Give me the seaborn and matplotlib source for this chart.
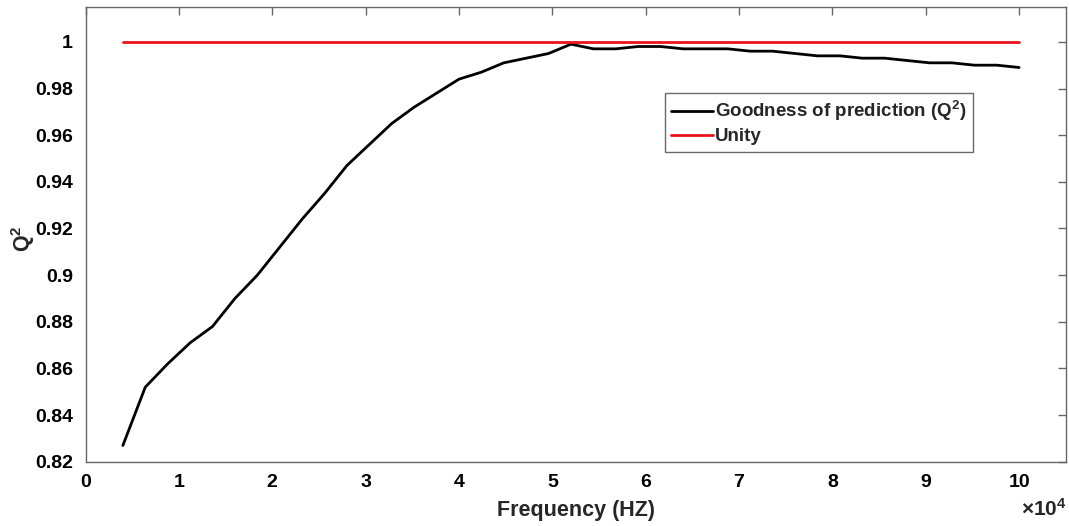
import pandas as pd
import matplotlib
matplotlib.use('Agg')
import matplotlib.pyplot as plt
import matplotlib.ticker as mticker
import seaborn as sns

# Frequencies (Hz) and goodness of prediction
freq = [4000, 6400, 8800, 11200, 13600, 16000, 18400, 20800, 23200, 25600,
        28000, 30400, 32800, 35200, 37600, 40000, 42400, 44800, 47200, 49600,
        52000, 54400, 56800, 59200, 61600, 64000, 66400, 68800, 71200, 73600,
        76000, 78400, 80800, 83200, 85600, 88000, 90400, 92800, 95200, 97600,
        100000]
q2 = [0.827, 0.852, 0.862, 0.871, 0.878, 0.890, 0.900, 0.912, 0.924, 0.935,
      0.947, 0.956, 0.965, 0.972, 0.978, 0.984, 0.987, 0.991, 0.993, 0.995,
      0.999, 0.997, 0.997, 0.998, 0.998, 0.997, 0.997, 0.997, 0.996, 0.996,
      0.995, 0.994, 0.994, 0.993, 0.993, 0.992, 0.991, 0.991, 0.990, 0.990,
      0.989]
unity_x = [4000, 100000]
unity_y = [1.0, 1.0]

sns.set_theme(style='white')
plt.rcParams['font.family'] = ['Liberation Sans', 'DejaVu Sans']
plt.rcParams['font.weight'] = 'bold'
plt.rcParams['mathtext.fontset'] = 'custom'
plt.rcParams['mathtext.rm'] = 'Liberation Sans:bold'
plt.rcParams['mathtext.bf'] = 'Liberation Sans:bold'
plt.rcParams['mathtext.it'] = 'Liberation Sans:bold'
plt.rcParams['mathtext.default'] = 'bf'

df = pd.DataFrame({'freq': freq, 'q2': q2})
df_unity = pd.DataFrame({'freq': unity_x, 'q2': unity_y})

fig = plt.figure(figsize=(10.69, 5.26), dpi=100)
ax = fig.add_axes([0.080, 0.122, 0.917, 0.865])

sns.lineplot(data=df, x='freq', y='q2', ax=ax, color='black', linewidth=2,
             label='Goodness of prediction (Q$^2$)')
sns.lineplot(data=df_unity, x='freq', y='q2', ax=ax, color='#e8141c', linewidth=2,
             label='Unity')

ax.set_xlim(0, 105000)
ax.set_ylim(0.82, 1.015)
ax.set_xticks([i * 10000 for i in range(11)])
ax.set_yticks([0.82, 0.84, 0.86, 0.88, 0.9, 0.92, 0.94, 0.96, 0.98, 1.0])
ax.yaxis.set_major_formatter(mticker.FormatStrFormatter('%g'))
ax.xaxis.set_major_formatter(mticker.FuncFormatter(lambda v, p: '%g' % (v / 1e4)))

ax.tick_params(direction='in', length=6, width=1, color='#666666',
               top=True, right=True, labelsize=14, labelcolor='black')
ax.tick_params(axis='x', pad=9)
ax.tick_params(axis='y', pad=9)
for lab in ax.get_xticklabels() + ax.get_yticklabels():
    lab.set_fontweight('bold')
for sp in ax.spines.values():
    sp.set_visible(True)
    sp.set_color('#666666')
    sp.set_linewidth(1)

ax.set_xlabel('Frequency (HZ)', fontsize=15.5, fontweight='bold', labelpad=6)
ax.set_ylabel('Q$^2$', fontsize=15.5, fontweight='bold')
ax.yaxis.set_label_coords(-0.049, 0.49)
fig.text(0.998, 0.012, r'$\times$10$^4$', ha='right', va='bottom', fontsize=15)

leg = ax.legend(loc='upper left', bbox_to_anchor=(0.591, 0.811), fontsize=13.5,
                frameon=True, fancybox=False, handlelength=2.2, handletextpad=0.1,
                borderpad=0.35, labelspacing=0.25, borderaxespad=0)
leg.get_frame().set_edgecolor('#444444')
leg.get_frame().set_linewidth(1)
for t in leg.get_texts():
    t.set_fontweight('bold')

fig.savefig('out.png', dpi=100)
